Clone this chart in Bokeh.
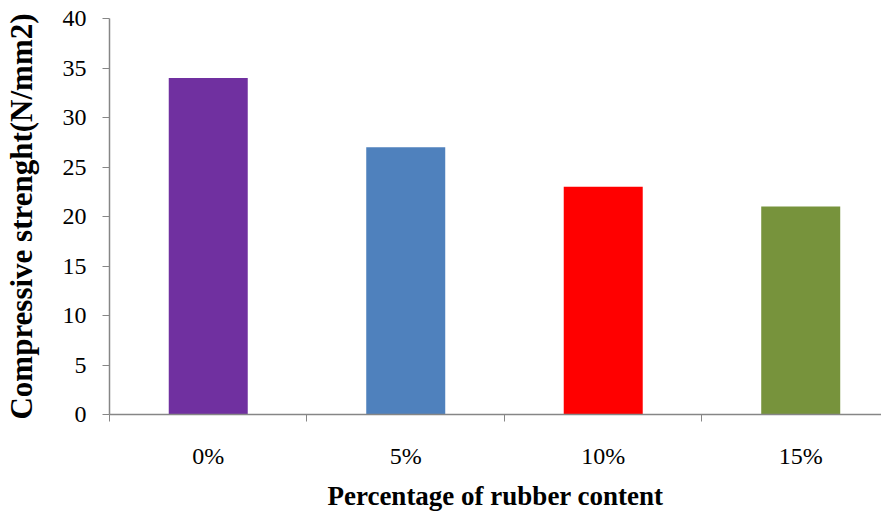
from bokeh.plotting import figure
from bokeh.models import Range1d, FixedTicker, ColumnDataSource
from bokeh.embed import file_html
from bokeh.resources import INLINE

categories = ["0%", "5%", "10%", "15%"]
values = [34, 27, 23, 21]
colors = ["#7030A0", "#4F81BD", "#FF0000", "#77933C"]
y_ticks = [0, 5, 10, 15, 20, 25, 30, 35, 40]

xs = [i + 0.5 for i in range(len(categories))]
source = ColumnDataSource(dict(x=xs, top=values, color=colors, cat=categories))

p = figure(width=881, height=513, output_backend="svg", toolbar_location=None,
           x_range=Range1d(0, 3.909), y_range=Range1d(0, 40),
           min_border_left=109, min_border_top=18, min_border_bottom=95, min_border_right=0)

p.vbar(x="x", top="top", bottom=0, width=0.4, color="color", source=source, line_color=None)

p.outline_line_color = None
p.xgrid.grid_line_color = None
p.ygrid.grid_line_color = None
p.background_fill_color = "white"

font = "Liberation Serif"
axis_color = "#868686"

xa = p.xaxis[0]
xa.ticker = FixedTicker(ticks=xs, minor_ticks=[0, 1, 2, 3, 4])
xa.major_label_overrides = {x: c for x, c in zip(xs, categories)}
xa.major_tick_line_color = None
xa.minor_tick_line_color = axis_color
xa.minor_tick_out = 7
xa.minor_tick_in = 0
xa.axis_line_color = axis_color
xa.axis_line_width = 1.5
xa.major_label_text_font = font
xa.major_label_text_font_size = "24px"
xa.major_label_text_color = "black"
xa.major_label_standoff = 21
xa.axis_label = "Percentage of rubber content"
xa.axis_label_text_font = font
xa.axis_label_text_font_style = "bold"
xa.axis_label_text_font_size = "27px"
xa.axis_label_text_color = "black"
xa.axis_label_standoff = 9

ya = p.yaxis[0]
ya.ticker = FixedTicker(ticks=y_ticks)
ya.minor_tick_line_color = None
ya.major_tick_line_color = axis_color
ya.major_tick_out = 7
ya.major_tick_in = 0
ya.axis_line_color = axis_color
ya.axis_line_width = 1.5
ya.major_label_text_font = font
ya.major_label_text_font_size = "24px"
ya.major_label_text_color = "black"
ya.major_label_standoff = 16
ya.axis_label = "Compressive strenght(N/mm2)"
ya.axis_label_text_font = font
ya.axis_label_text_font_style = "bold"
ya.axis_label_text_font_size = "31px"
ya.axis_label_text_color = "black"
ya.axis_label_standoff = 21

open("out.html", "w").write(file_html(p, INLINE))
